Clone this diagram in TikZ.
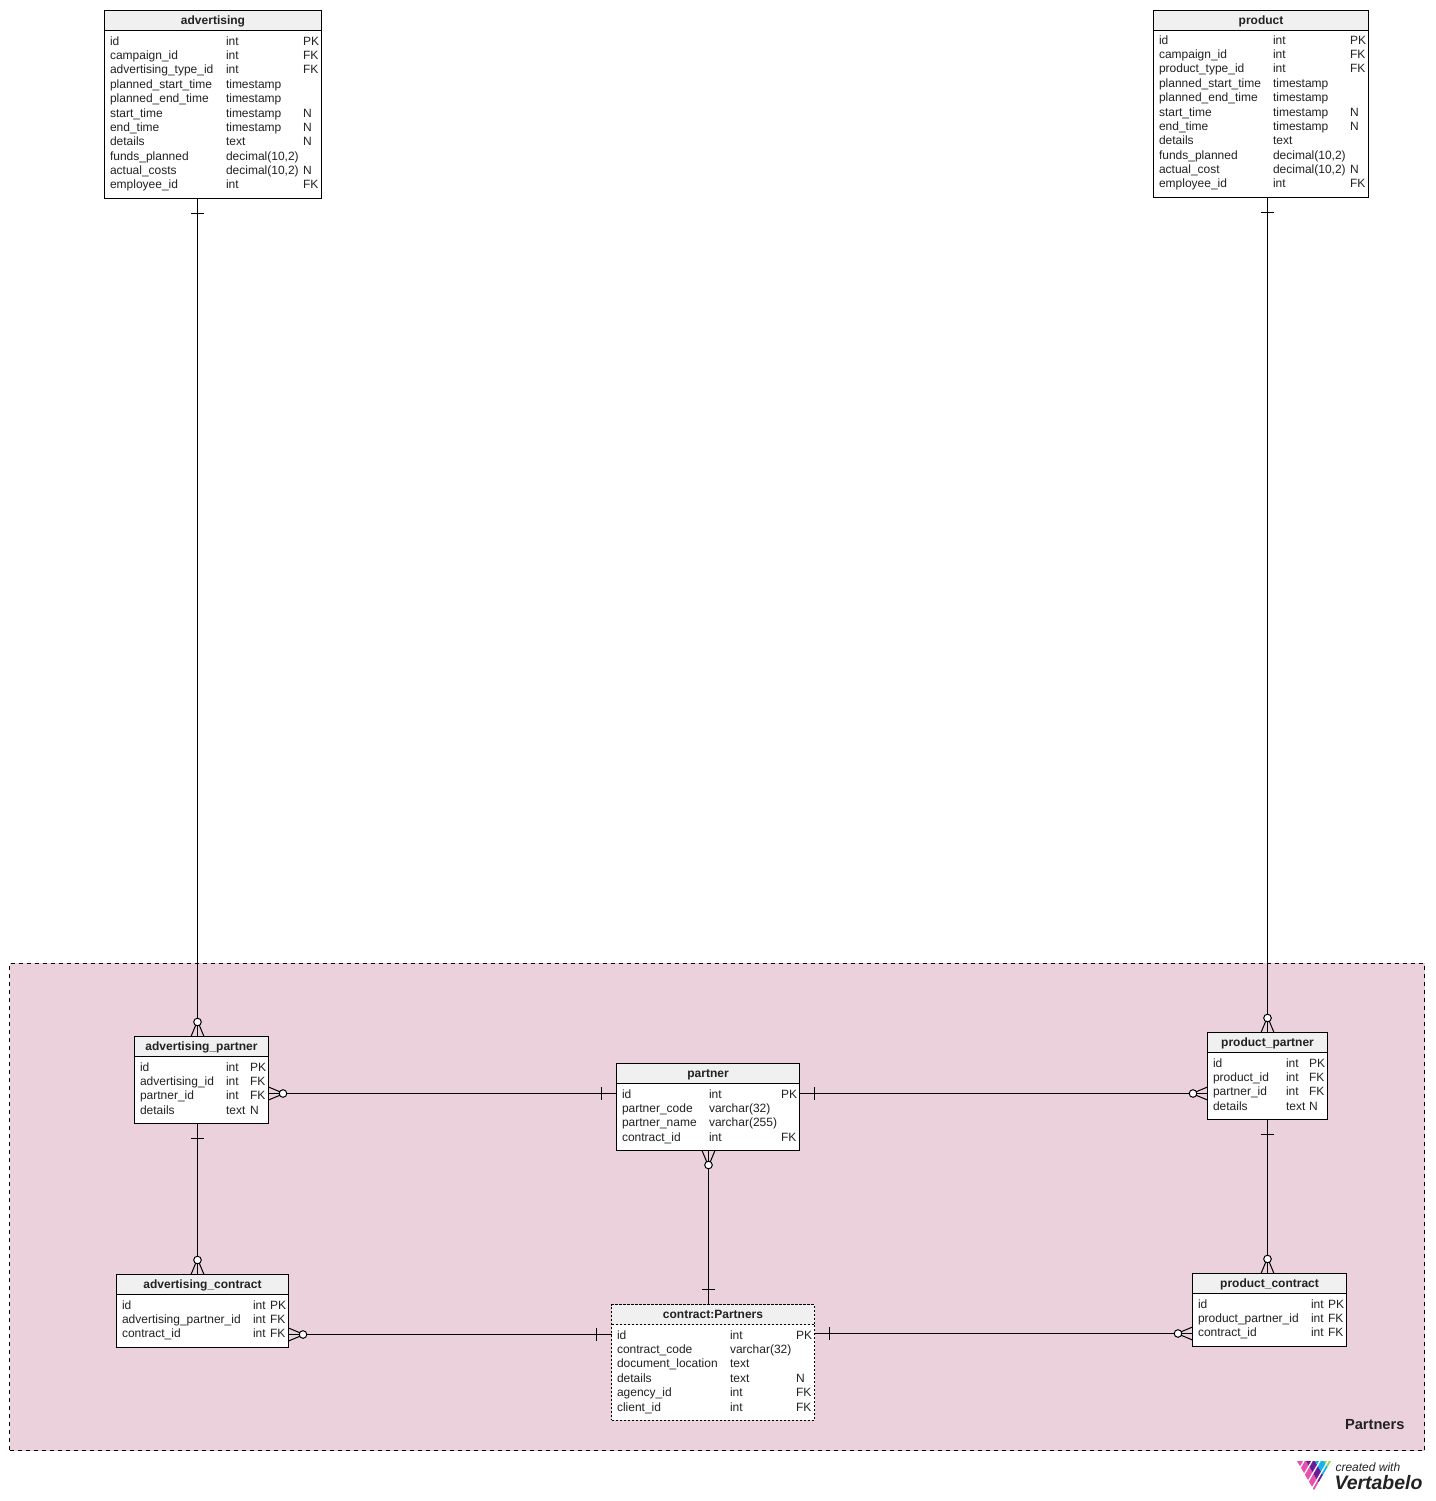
\documentclass[tikz,border=0pt]{standalone}
\usepackage{fontspec}
\setmainfont{Liberation Sans}
\usetikzlibrary{positioning}
\definecolor{regionfill}{HTML}{EAD1DC}
\definecolor{headfill}{HTML}{F0F0F0}
\definecolor{rowtext}{HTML}{222222}
\definecolor{logopink}{HTML}{E94FAE}
\definecolor{logopurple}{HTML}{6A1B9A}
\definecolor{logoblue}{HTML}{12B5EA}
\definecolor{logogreen}{HTML}{8EDB4F}
\begin{document}
\begin{tikzpicture}[
  x=0.75pt, y=-0.75pt,
  line width=0.75pt,
  tablebox/.style={rectangle, draw, fill=white, inner sep=0pt, outer sep=0pt},
  tablesize/.style 2 args={minimum width=#1*0.75pt, minimum height=#2*0.75pt},
  headbox/.style={rectangle, draw, fill=headfill, inner sep=0pt, outer sep=0pt, minimum height=20*0.75pt,
    text height=7pt, text depth=1pt, font=\bfseries\fontsize{9}{10}\selectfont, text=rowtext},
  rowtxt/.style={anchor=base west, inner sep=0pt, outer sep=0pt, font=\fontsize{9}{10}\selectfont, text=rowtext},
  fineline/.style={dash pattern=on 1.5pt off 1.5pt},
  crowfoot/.pic={
    \draw (0,-6.5) -- (12,-1.5);
    \draw (0,6.5) -- (12,1.5);
    \draw[fill=white] (14.5,0) circle[radius=3.8];
  },
  onebar/.pic={
    \draw (15,-6.5) -- (15,6.5);
  }
]
\useasboundingbox (0,0) rectangle (1435,1501);
% region
\node[rectangle, draw, dashed, fill=regionfill, inner sep=0pt, outer sep=0pt, tablesize={1415}{487.5}] (region) at (717,1206.75) {};
\node[anchor=base east, inner sep=0pt, font=\bfseries\fontsize{11}{12}\selectfont, text=rowtext] (regionlabel) at (1405,1429) {Partners};

% lanes for the connectors
\coordinate (advlane) at (197.5,0);
\coordinate (midlane) at (708.5,0);
\coordinate (prodlane) at (1267.5,0);
\coordinate (upperlane) at (0,1093.5);
\coordinate (advlower) at (0,1334.5);
\coordinate (prodlower) at (0,1333.5);

% advertising
\node[tablebox, tablesize={217}{187.5}] (advertising) at (213,104.75) {};
\node[headbox, minimum width=217*0.75pt, anchor=north] (advertising-head) at (advertising.north) {advertising};
\foreach \y/\a/\b/\c in {41/id/int/PK, 55/campaign\_id/int/FK, 69/advertising\_type\_id/int/FK,
  84/planned\_start\_time/timestamp/{}, 98/planned\_end\_time/timestamp/{}, 113/start\_time/timestamp/N,
  127/end\_time/timestamp/N, 141/details/text/N, 156/funds\_planned/{decimal(10,2)}/{},
  170/actual\_costs/{decimal(10,2)}/N, 184/employee\_id/int/FK} {
  \node[rowtxt] (adv-\y-a) at (110,\y+4.5) {\a};
  \node[rowtxt] (adv-\y-b) at (226,\y+4.5) {\b};
  \node[rowtxt] (adv-\y-c) at (303,\y+4.5) {\c};
}

% product
\node[tablebox, tablesize={215}{187}] (product) at (1261,103.75) {};
\node[headbox, minimum width=215*0.75pt, anchor=north] (product-head) at (product.north) {product};
\foreach \y/\a/\b/\c in {40/id/int/PK, 54/campaign\_id/int/FK, 68/product\_type\_id/int/FK,
  83/planned\_start\_time/timestamp/{}, 97/planned\_end\_time/timestamp/{}, 112/start\_time/timestamp/N,
  126/end\_time/timestamp/N, 140/details/text/{}, 155/funds\_planned/{decimal(10,2)}/{},
  169/actual\_cost/{decimal(10,2)}/N, 183/employee\_id/int/FK} {
  \node[rowtxt] (prod-\y-a) at (1159,\y+4.5) {\a};
  \node[rowtxt] (prod-\y-b) at (1273,\y+4.5) {\b};
  \node[rowtxt] (prod-\y-c) at (1350,\y+4.5) {\c};
}

% advertising_partner
\node[tablebox, tablesize={134}{87}] (advpartner) at (201.5,1080) {};
\node[headbox, minimum width=134*0.75pt, anchor=north] (advpartner-head) at (advpartner.north) {advertising\_partner};
\foreach \y/\a/\b/\c in {1067/id/int/PK, 1081/advertising\_id/int/FK, 1095/partner\_id/int/FK, 1110/details/text/N} {
  \node[rowtxt] (advp-\y-a) at (140,\y+4.5) {\a};
  \node[rowtxt] (advp-\y-b) at (226,\y+4.5) {\b};
  \node[rowtxt] (advp-\y-c) at (250,\y+4.5) {\c};
}

% advertising_contract
\node[tablebox, tablesize={172}{73}] (advcontract) at (202.5,1311) {};
\node[headbox, minimum width=172*0.75pt, anchor=north] (advcontract-head) at (advcontract.north) {advertising\_contract};
\foreach \y/\a/\b/\c in {1305/id/int/PK, 1319/advertising\_partner\_id/int/FK, 1333/contract\_id/int/FK} {
  \node[rowtxt] (advc-\y-a) at (122,\y+4.5) {\a};
  \node[rowtxt] (advc-\y-b) at (253,\y+4.5) {\b};
  \node[rowtxt] (advc-\y-c) at (270,\y+4.5) {\c};
}

% partner
\node[tablebox, tablesize={183}{87}] (partner) at (708,1107) {};
\node[headbox, minimum width=183*0.75pt, anchor=north] (partner-head) at (partner.north) {partner};
\foreach \y/\a/\b/\c in {1094/id/int/PK, 1108/partner\_code/varchar(32)/{}, 1122/partner\_name/varchar(255)/{}, 1137/contract\_id/int/FK} {
  \node[rowtxt] (part-\y-a) at (622,\y+4.5) {\a};
  \node[rowtxt] (part-\y-b) at (709,\y+4.5) {\b};
  \node[rowtxt] (part-\y-c) at (781,\y+4.5) {\c};
}

% contract:Partners
\node[tablebox, fineline, tablesize={203}{115.5}] (contract) at (713,1362.5) {};
\node[headbox, fineline, minimum width=203*0.75pt, anchor=north] (contract-head) at (contract.north) {contract:Partners};
\foreach \y/\a/\b/\c in {1335/id/int/PK, 1349/contract\_code/varchar(32)/{}, 1363/document\_location/text/{},
  1378/details/text/N, 1392/agency\_id/int/FK, 1407/client\_id/int/FK} {
  \node[rowtxt] (con-\y-a) at (617,\y+4.5) {\a};
  \node[rowtxt] (con-\y-b) at (730,\y+4.5) {\b};
  \node[rowtxt] (con-\y-c) at (796,\y+4.5) {\c};
}

% product_partner
\node[tablebox, tablesize={120}{87}] (prodpartner) at (1267.5,1076) {};
\node[headbox, minimum width=120*0.75pt, anchor=north] (prodpartner-head) at (prodpartner.north) {product\_partner};
\foreach \y/\a/\b/\c in {1063/id/int/PK, 1077/product\_id/int/FK, 1091/partner\_id/int/FK, 1106/details/text/N} {
  \node[rowtxt] (prodp-\y-a) at (1213,\y+4.5) {\a};
  \node[rowtxt] (prodp-\y-b) at (1286,\y+4.5) {\b};
  \node[rowtxt] (prodp-\y-c) at (1309,\y+4.5) {\c};
}

% product_contract
\node[tablebox, tablesize={154}{73}] (prodcontract) at (1269.5,1310) {};
\node[headbox, minimum width=154*0.75pt, anchor=north] (prodcontract-head) at (prodcontract.north) {product\_contract};
\foreach \y/\a/\b/\c in {1304/id/int/PK, 1318/product\_partner\_id/int/FK, 1332/contract\_id/int/FK} {
  \node[rowtxt] (prodc-\y-a) at (1198,\y+4.5) {\a};
  \node[rowtxt] (prodc-\y-b) at (1311,\y+4.5) {\b};
  \node[rowtxt] (prodc-\y-c) at (1328,\y+4.5) {\c};
}

% connectors
\draw (advlane |- advertising.south) -- (advlane |- advpartner.north)
  pic[pos=0, rotate=-90] {onebar} pic[pos=1, rotate=90] {crowfoot};
\draw (advlane |- advpartner.south) -- (advlane |- advcontract.north)
  pic[pos=0, rotate=-90] {onebar} pic[pos=1, rotate=90] {crowfoot};
\draw (prodlane |- product.south) -- (prodlane |- prodpartner.north)
  pic[pos=0, rotate=-90] {onebar} pic[pos=1, rotate=90] {crowfoot};
\draw (prodlane |- prodpartner.south) -- (prodlane |- prodcontract.north)
  pic[pos=0, rotate=-90] {onebar} pic[pos=1, rotate=90] {crowfoot};
\draw (midlane |- partner.south) -- (midlane |- contract.north)
  pic[pos=0, rotate=-90] {crowfoot} pic[pos=1, rotate=90] {onebar};
\draw (advpartner.east |- upperlane) -- (partner.west |- upperlane)
  pic[pos=0] {crowfoot} pic[pos=1, rotate=180] {onebar};
\draw (partner.east |- upperlane) -- (prodpartner.west |- upperlane)
  pic[pos=0] {onebar} pic[pos=1, rotate=180] {crowfoot};
\draw (advcontract.east |- advlower) -- (contract.west |- advlower)
  pic[pos=0] {crowfoot} pic[pos=1, rotate=180] {onebar};
\draw (contract.east |- prodlower) -- (prodcontract.west |- prodlower)
  pic[pos=0] {onebar} pic[pos=1, rotate=180] {crowfoot};

% logo
\begin{scope}
  \clip (1297,1461) -- (1331,1461) -- (1313.5,1491) -- cycle;
  \fill[logopink] (1297,1461) -- (1306,1461) -- (1323.5,1491) -- (1314.5,1491) -- cycle;
  \fill[logopurple] (1306,1461) -- (1315,1461) -- (1332.5,1491) -- (1323.5,1491) -- cycle;
  \fill[logoblue] (1315,1461) -- (1324,1461) -- (1341.5,1491) -- (1332.5,1491) -- cycle;
  \fill[logogreen] (1324,1461) -- (1333,1461) -- (1350.5,1491) -- (1341.5,1491) -- cycle;
  \foreach \x in {1304,1312,1320,1328} {
    \draw[white, line width=1pt] (\x,1461) -- (\x-17.5,1491);
  }
\end{scope}
\node[anchor=base west, inner sep=0pt, font=\itshape\fontsize{9}{10}\selectfont, text=rowtext] (logotop) at (1335,1471) {created with};
\node[anchor=base west, inner sep=0pt, font=\bfseries\itshape\fontsize{14.6}{16}\selectfont, text=rowtext] (logoname) at (1334,1489) {Vertabelo};
\end{tikzpicture}
\end{document}
